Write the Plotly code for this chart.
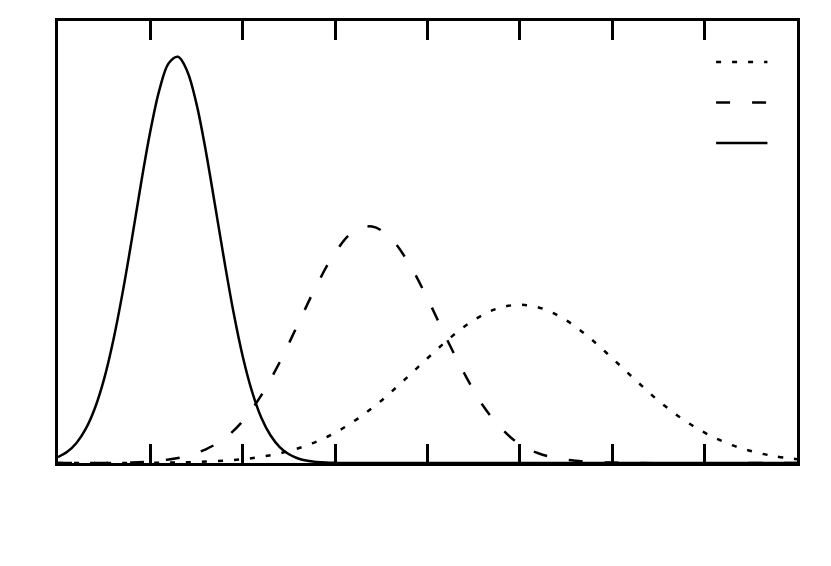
import plotly.graph_objects as go

# values
x_solid = [0.0, 0.1, 0.2, 0.3, 0.4, 0.5, 0.6, 0.7, 0.8, 0.9, 1.0, 1.1, 1.2, 1.3,
           1.4, 1.5, 1.6, 1.7, 1.8, 1.9, 2.0, 2.1, 2.2, 2.3, 2.4, 2.5, 2.6, 2.7,
           2.8, 2.9, 3.0, 3.2, 8.0]
y_solid = [0.0134, 0.0252, 0.0452, 0.077, 0.1245, 0.191, 0.279, 0.386, 0.507,
           0.634, 0.751, 0.846, 0.905, 0.919, 0.886, 0.812, 0.706, 0.583, 0.458,
           0.341, 0.241, 0.162, 0.103, 0.0627, 0.036, 0.0197, 0.0102, 0.005,
           0.0024, 0.001, 0.0004, 0.0, 0.0]

x_dashed = [0.0, 0.8, 1.0, 1.2, 1.4, 1.6, 1.8, 2.0, 2.2, 2.4, 2.6, 2.8, 3.0,
            3.2, 3.4, 3.6, 3.8, 4.0, 4.2, 4.4, 4.6, 4.8, 5.0, 5.2, 5.4, 5.6,
            5.8, 6.0, 6.2, 8.0]
y_dashed = [0.0, 0.001, 0.0035, 0.008, 0.016, 0.031, 0.055, 0.095, 0.153,
            0.228, 0.315, 0.402, 0.476, 0.524, 0.535, 0.509, 0.451, 0.372,
            0.284, 0.202, 0.130, 0.078, 0.042, 0.022, 0.011, 0.005, 0.002,
            0.001, 0.0, 0.0]

x_dotted = [0.0, 1.0, 1.5, 2.0, 2.25, 2.5, 2.75, 3.0, 3.25, 3.5, 3.75, 4.0,
            4.25, 4.5, 4.75, 5.0, 5.25, 5.5, 5.75, 6.0, 6.25, 6.5, 6.75, 7.0,
            7.25, 7.5, 7.75, 8.0]
y_dotted = [0.0, 0.0005, 0.0023, 0.0087, 0.0157, 0.0271, 0.0442, 0.0686, 0.101,
            0.141, 0.188, 0.237, 0.284, 0.323, 0.349, 0.358, 0.349, 0.323,
            0.284, 0.237, 0.188, 0.141, 0.101, 0.0686, 0.0442, 0.0271, 0.0157,
            0.0087]

x_ticks = [1, 2, 3, 4, 5, 6, 7]

DOT = "5px,11px"
DASH = "14px,22px"

fig = go.Figure()

fig.add_trace(go.Scatter(x=x_dotted, y=y_dotted, mode="lines",
                         line=dict(color="black", width=2.5, dash=DOT, shape="spline")))
fig.add_trace(go.Scatter(x=x_dashed, y=y_dashed, mode="lines",
                         line=dict(color="black", width=2.5, dash=DASH, shape="spline")))
fig.add_trace(go.Scatter(x=x_solid, y=y_solid, mode="lines",
                         line=dict(color="black", width=2.5, shape="spline")))

# legend keys (no text in the reference)
for yk, dash in [(0.907, DOT), (0.8155, DASH), (0.724, "solid")]:
    fig.add_shape(type="line", xref="paper", yref="paper",
                  x0=0.8905, x1=0.960, y0=yk, y1=yk,
                  line=dict(color="black", width=2.5, dash=dash))

# page body adds an 8px offset, margins compensate
fig.update_layout(
    width=831,
    height=566,
    margin=dict(l=50, r=42, t=10, b=111),
    paper_bgcolor="white",
    plot_bgcolor="white",
    showlegend=False,
    xaxis=dict(
        range=[0, 8],
        tickvals=x_ticks,
        showticklabels=False,
        ticks="inside",
        ticklen=19,
        tickwidth=2.5,
        tickcolor="black",
        showline=True,
        linecolor="black",
        linewidth=3,
        mirror="ticks",
        showgrid=False,
        zeroline=False,
    ),
    yaxis=dict(
        range=[0, 1],
        showticklabels=False,
        ticks="",
        showline=True,
        linecolor="black",
        linewidth=3,
        mirror=True,
        showgrid=False,
        zeroline=False,
    ),
)

fig.write_html("out.html")
